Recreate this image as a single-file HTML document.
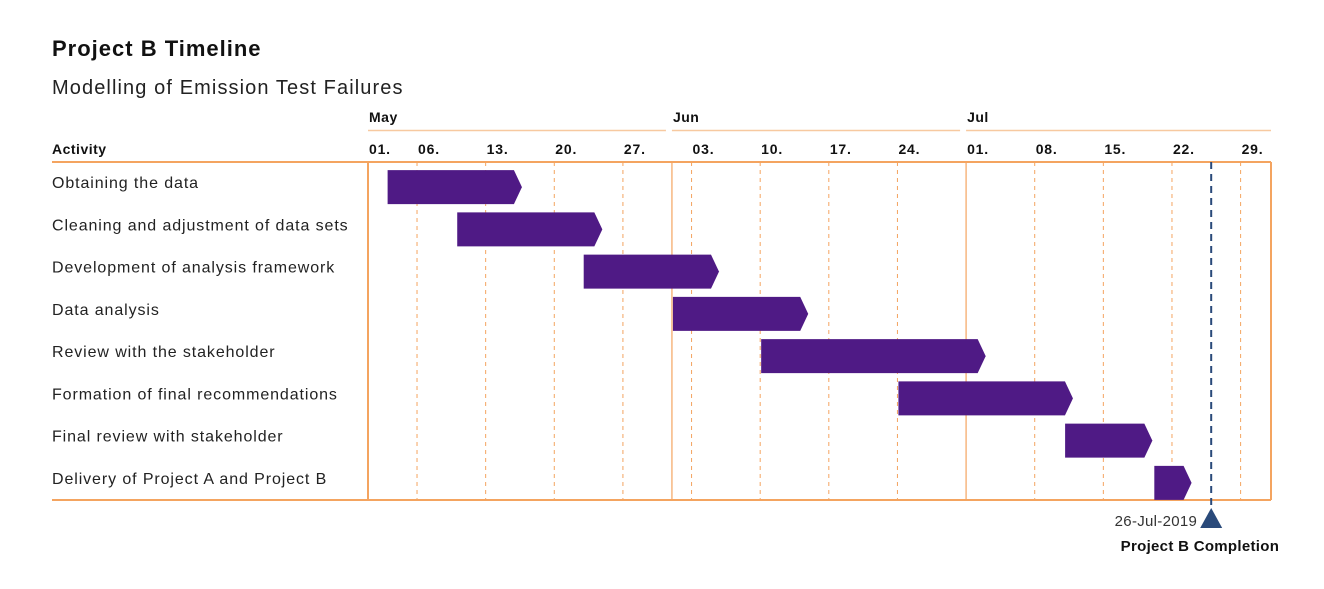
<!DOCTYPE html>
<html><head><meta charset="utf-8"><style>
body{margin:0;background:#fff;width:1324px;height:584px;overflow:hidden;font-family:"Liberation Sans",sans-serif}
svg text{font-family:"Liberation Sans",sans-serif}
</style></head><body>
<svg id="chart" width="1324" height="584">
<text x="52" y="56" font-size="22" font-weight="bold" fill="#111" letter-spacing="1">Project B Timeline</text>
<text x="52" y="94" font-size="20" fill="#222" letter-spacing="1.1">Modelling of Emission Test Failures</text>
<text x="52" y="154" font-size="14" font-weight="bold" fill="#111" letter-spacing="0.5">Activity</text>
<g id="grid"></g><g id="bars"></g><g id="labels"></g>
</svg>
<script>
const activities=["Obtaining the data","Cleaning and adjustment of data sets","Development of analysis framework","Data analysis","Review with the stakeholder","Formation of final recommendations","Final review with stakeholder","Delivery of Project A and Project B"];
const startDay=[2,9.1,22,31.1,40.1,54.1,71.1,80.2];
const endDay=[15.7,23.9,35.8,44.9,63,71.9,80,84];
const tickDays=[0,5,12,19,26,33,40,47,54,61,68,75,82,89];
const tickLabels=["01.","06.","13.","20.","27.","03.","10.","17.","24.","01.","08.","15.","22.","29."];
const monthDays=[0,31,61];
const monthLabels=["May","Jun","Jul"];
const milestoneDay=[86];
const milestoneLabel=["26-Jul-2019"];
const NS="http://www.w3.org/2000/svg";
const X0=368,X1=1271,DAYS=92.1,Y0=162,Y1=500;
const x=d=>X0+d*(X1-X0)/DAYS;
const rowH=(Y1-Y0)/activities.length;
function mk(tag,attrs,parent,txt){const e=document.createElementNS(NS,tag);for(const k in attrs)e.setAttribute(k,attrs[k]);if(txt!==undefined)e.textContent=txt;parent.appendChild(e);return e;}
const g=document.getElementById('grid'),b=document.getElementById('bars'),l=document.getElementById('labels');
const OR="#f4a460";
monthDays.forEach((d,i)=>{const nx=i+1<monthDays.length?x(monthDays[i+1])-6:X1;
let t=mk('text',{x:x(d)+1,y:122,'font-size':14,'font-weight':'bold',fill:'#111','letter-spacing':0.5},l,monthLabels[i]);


let ln=mk('line',{x1:x(d),x2:nx,y1:130.5,y2:130.5,stroke:'#f7c9a0','stroke-width':1.5},g);


if(d>0){let v=mk('line',{x1:x(d),x2:x(d),y1:Y0,y2:Y1,stroke:OR,'stroke-width':1.2},g);

}
});
tickDays.forEach((d,i)=>{
let t=mk('text',{x:x(d)+1,y:154,'font-size':14,'font-weight':'bold',fill:'#111','letter-spacing':0.8},l,tickLabels[i]);


if(!monthDays.includes(d)){let v=mk('line',{x1:x(d),x2:x(d),y1:Y0,y2:Y1,stroke:OR,'stroke-width':1,'stroke-dasharray':'4,4'},g);

}
});
[[52,X1,Y0,Y0],[52,X1,Y1,Y1],[X0,X0,Y0,Y1],[X1,X1,Y0,Y1]].forEach(a=>{
let ln=mk('line',{x1:a[0],x2:a[1],y1:a[2],y2:a[3],stroke:OR,'stroke-width':2},g);

});
activities.forEach((a,i)=>{
const cy=Y0+rowH*(i+0.5)+4;
let t=mk('text',{x:52,y:cy+1,'font-size':16,fill:'#222','letter-spacing':0.9},l,a);


const xs=x(startDay[i]),xe=x(endDay[i]),h=34,top=cy-h/2;
const p=mk('polygon',{points:`${xs},${top} ${xe-8},${top} ${xe},${cy} ${xe-8},${top+h} ${xs},${top+h}`,fill:'#4f1a85'},b);


});
milestoneDay.forEach((d,i)=>{const mx=x(d);
let v=mk('line',{x1:mx,x2:mx,y1:Y0,y2:Y1+10,stroke:'#2a4a7a','stroke-width':2,'stroke-dasharray':'7,5'},g);


let tri=mk('polygon',{points:`${mx},${Y1+8} ${mx+11},${Y1+28} ${mx-11},${Y1+28}`,fill:'#2a4a7a'},b);


let t=mk('text',{x:mx-14,y:Y1+26,'font-size':15,fill:'#333','text-anchor':'end','letter-spacing':0.3},l,milestoneLabel[i]);


let t2=mk('text',{x:mx+68,y:Y1+51,'font-size':15,'font-weight':'bold',fill:'#111','text-anchor':'end','letter-spacing':0.3},l,'Project B Completion');


});
</script>
</body></html>
